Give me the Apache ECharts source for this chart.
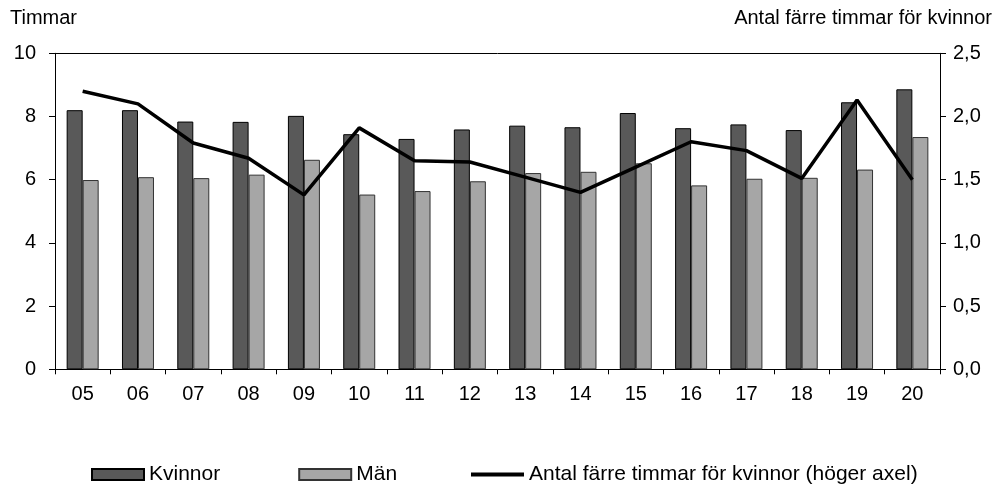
<!DOCTYPE html>
<html>
<head>
<meta charset="utf-8">
<script src="https://cdn.jsdelivr.net/npm/echarts@6/dist/echarts.min.js"></script>
<style>
html,body{margin:0;padding:0;background:#fff;}
#chart{width:995px;height:488px;}
</style>
</head>
<body>
<div id="chart"></div>
<script>
const categories = ['05','06','07','08','09','10','11','12','13','14','15','16','17','18','19','20'];
const kvinnor = [8.2, 8.2, 7.84, 7.83, 8.02, 7.44, 7.29, 7.59, 7.71, 7.66, 8.11, 7.63, 7.75, 7.57, 8.45, 8.86];
const man = [5.99, 6.08, 6.05, 6.16, 6.63, 5.53, 5.64, 5.95, 6.21, 6.25, 6.52, 5.82, 6.03, 6.06, 6.32, 7.35];
const skillnad = [2.2, 2.1, 1.79, 1.67, 1.38, 1.91, 1.65, 1.64, 1.52, 1.40, 1.60, 1.80, 1.73, 1.51, 2.13, 1.50];
const seriesNames = ['Kvinnor', 'Män', 'Antal färre timmar för kvinnor (höger axel)'];
const leftTitle = 'Timmar';
const rightTitle = 'Antal färre timmar för kvinnor';

const FONT = '"Liberation Sans", Arial, sans-serif';
const legendText = {fontFamily: FONT, fontSize: 21, color: '#000'};
const chart = echarts.init(document.getElementById('chart'), null, {renderer: 'canvas'});
chart.setOption({
  animation: false,
  backgroundColor: '#fff',
  textStyle: {fontFamily: FONT, color: '#000'},
  grid: {left: 55, right: 55, top: 53.3, bottom: 118.7, containLabel: false},
  graphic: [
    {type: 'text', left: 10, top: 8, style: {text: leftTitle, font: '20px ' + FONT, fill: '#000'}},
    {type: 'text', right: 3, top: 8, style: {text: rightTitle, font: '20px ' + FONT, fill: '#000'}}
  ],
  legend: [
    {
      left: 91, top: 464, padding: 0,
      itemWidth: 52, itemHeight: 11, itemGap: 78,
      textStyle: legendText,
      data: [
        {name: seriesNames[0], icon: 'rect'},
        {name: seriesNames[1], icon: 'rect'}
      ]
    },
    {
      left: 471, top: 464, padding: 0,
      itemWidth: 53, itemHeight: 4,
      textStyle: legendText,
      data: [{name: seriesNames[2], icon: 'rect'}]
    }
  ],
  xAxis: [
    {
      type: 'category', data: categories, position: 'bottom',
      axisLine: {lineStyle: {color: '#000', width: 1}},
      axisTick: {show: true, length: 5, lineStyle: {color: '#000'}},
      axisLabel: {fontFamily: FONT, fontSize: 20, color: '#000', margin: 15}
    },
    {
      type: 'category', data: categories, position: 'top',
      axisLine: {show: true, onZero: false, lineStyle: {color: '#000', width: 1}},
      axisTick: {show: false}, axisLabel: {show: false}
    }
  ],
  yAxis: [
    {
      type: 'value', min: 0, max: 10, interval: 2, position: 'left',
      axisLine: {show: true, lineStyle: {color: '#000'}},
      axisTick: {show: true, length: 6, lineStyle: {color: '#000'}},
      splitLine: {show: false},
      axisLabel: {fontFamily: FONT, fontSize: 20, color: '#000', margin: 19}
    },
    {
      type: 'value', min: 0, max: 2.5, interval: 0.5, position: 'right',
      axisLine: {show: true, lineStyle: {color: '#000'}},
      axisTick: {show: true, length: 6, lineStyle: {color: '#000'}},
      splitLine: {show: false},
      axisLabel: {fontFamily: FONT, fontSize: 20, color: '#000', margin: 13,
        formatter: v => v.toFixed(1).replace('.', ',')}
    }
  ],
  series: [
    {
      name: seriesNames[0], type: 'bar', data: kvinnor, barWidth: 16, barGap: '0%',
      itemStyle: {color: '#595959', borderColor: '#000', borderWidth: 1}
    },
    {
      name: seriesNames[1], type: 'bar', data: man, barWidth: 16, barGap: '0%',
      itemStyle: {color: '#a6a6a6', borderColor: '#333', borderWidth: 1}
    },
    {
      name: seriesNames[2], type: 'line', yAxisIndex: 1, data: skillnad,
      symbol: 'none', lineStyle: {color: '#000', width: 3.5}, itemStyle: {color: '#000'}, z: 5
    }
  ]
});
</script>
</body>
</html>
